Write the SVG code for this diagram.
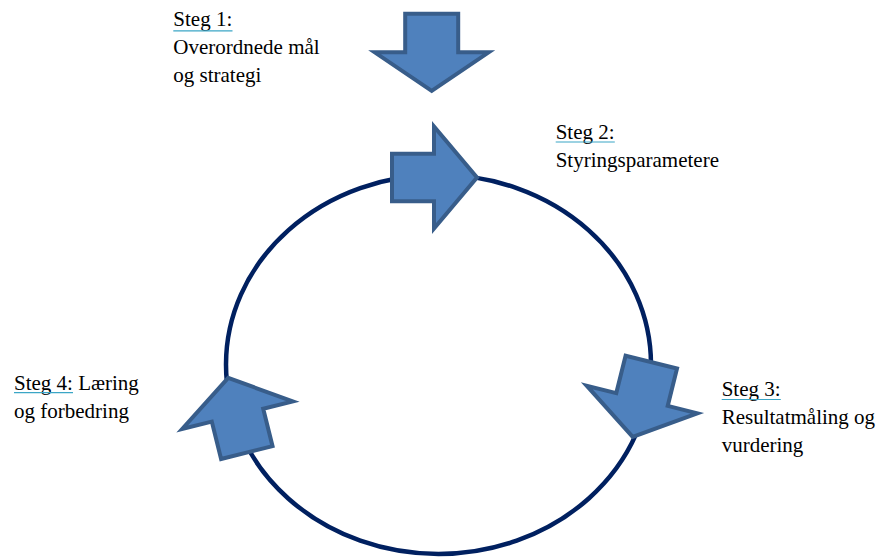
<svg xmlns="http://www.w3.org/2000/svg" width="894" height="558" viewBox="0 0 894 558">
  <style>
    .lbl { font-family: "Liberation Serif", "Times New Roman", serif; font-size: 21px; fill: #000; }
    .arrow { fill: #4F81BD; stroke: #385D8A; stroke-width: 4; stroke-linejoin: miter; }
    .ul { stroke: #3BA6C6; stroke-width: 1.2; }
  </style>
  <defs>
    <polygon id="downArrow" class="arrow" points="-26.5,-38.5 26.5,-38.5 26.5,0 57,0 0,38.5 -57,0 -26.5,0"/>
  </defs>
  <rect width="894" height="558" fill="#FFFFFF"/>
  <g id="connectors">
    <ellipse cx="438.5" cy="364.4" rx="212.5" ry="189.6" fill="none" stroke="#002060" stroke-width="4.5"/>
  </g>
  <g id="step1">
    <use href="#downArrow" transform="translate(431.7,52.3)"/>
    <text class="lbl" x="173.3" y="26">Steg 1:</text>
    <line class="ul" x1="173.3" y1="30.8" x2="232.5" y2="30.8"/>
    <text class="lbl" x="173.3" y="54">Overordnede mål</text>
    <text class="lbl" x="173.3" y="82">og strategi</text>
  </g>
  <g id="step2">
    <polygon class="arrow" points="392,153.8 434,153.8 434,126.5 477,177.5 434,228.5 434,201.2 392,201.2"/>
    <text class="lbl" x="555.7" y="139">Steg 2:</text>
    <line class="ul" x1="555.7" y1="142" x2="614.8" y2="142"/>
    <text class="lbl" x="555.7" y="167">Styringsparametere</text>
  </g>
  <g id="step3">
    <use href="#downArrow" transform="translate(642,399.5) rotate(14)"/>
    <text class="lbl" x="721.7" y="396">Steg 3:</text>
    <line class="ul" x1="721.7" y1="399.5" x2="780.8" y2="399.5"/>
    <text class="lbl" x="721.7" y="424">Resultatmåling og</text>
    <text class="lbl" x="721.7" y="452">vurdering</text>
  </g>
  <g id="step4">
    <use href="#downArrow" transform="translate(237.5,415.2) rotate(166)"/>
    <text class="lbl" x="14" y="389.5">Steg 4: Læring</text>
    <line class="ul" x1="14" y1="392.6" x2="73" y2="392.6"/>
    <text class="lbl" x="14" y="417.5">og forbedring</text>
  </g>
</svg>
